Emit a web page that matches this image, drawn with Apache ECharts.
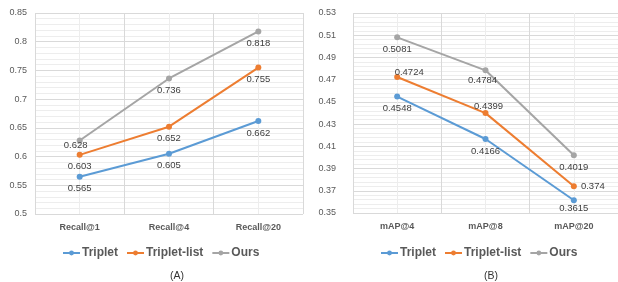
<!DOCTYPE html>
<html><head><meta charset="utf-8">
<script src="https://cdn.jsdelivr.net/npm/echarts@6/dist/echarts.min.js"></script>
<style>html,body{margin:0;padding:0;background:#fff}#c{width:618px;height:282px}</style>
</head><body><div id="c"></div>
<script>
const seriesNames = ['Triplet', 'Triplet-list', 'Ours'];
const catsA = ['Recall@1', 'Recall@4', 'Recall@20'];
const tripletA = [0.565, 0.605, 0.662];
const tripletListA = [0.603, 0.652, 0.755];
const oursA = [0.628, 0.736, 0.818];
const catsB = ['mAP@4', 'mAP@8', 'mAP@20'];
const tripletB = [0.4548, 0.4166, 0.3615];
const tripletListB = [0.4724, 0.4399, 0.374];
const oursB = [0.5081, 0.4784, 0.4019];
const panelTitles = ['(A)', '(B)'];

const colors = ['#5B9BD5', '#ED7D31', '#A5A5A5'];
const FONT = 'Liberation Sans';
const offs = {
  'A-2-0': [-4, -7],
  'B-1-0': [12, -17], 'B-1-1': [3, -19], 'B-1-2': [19, -12],
  'B-2-1': [-3, -2], 'B-0-2': [0, -4]
};
function mk(panel, si, vals, gi) {
  return {
    name: seriesNames[si], type: 'line', xAxisIndex: gi * 2, yAxisIndex: gi,
    symbol: 'circle', symbolSize: 6,
    lineStyle: {width: 2, color: colors[si]}, itemStyle: {color: colors[si]},
    data: vals.map((v, i) => {
      const o = offs[panel + '-' + si + '-' + i];
      return o ? {value: v, label: {offset: o}} : v;
    }),
    label: {show: true, position: 'bottom', distance: 4, color: '#404040',
      fontFamily: FONT, fontSize: 9.5, formatter: p => String(p.value)},
    z: 3 + si
  };
}
function yAx(gi, min, max, iv, margin) {
  return {type: 'value', gridIndex: gi, min: min, max: max, interval: iv,
    axisLine: {show: false}, axisTick: {show: false},
    axisLabel: {color: '#595959', fontFamily: FONT, fontSize: 9, margin: margin,
      formatter: v => String(parseFloat(v.toFixed(3)))},
    splitLine: {lineStyle: {color: '#D9D9D9', width: 1}},
    minorTick: {show: false, splitNumber: 5},
    minorSplitLine: {show: true, lineStyle: {color: '#EDEDED', width: 1}}};
}
function xCat(gi, cats) {
  return {type: 'category', gridIndex: gi, data: cats, boundaryGap: true,
    axisLine: {show: false}, axisTick: {show: false},
    axisLabel: {color: '#595959', fontFamily: FONT, fontSize: 9, fontWeight: 'bold', margin: 9},
    splitLine: {show: true, interval: 0, lineStyle: {color: '#D9D9D9', width: 1}}};
}
function xMinor(gi, n) {
  return {type: 'value', gridIndex: gi, min: 0, max: n, interval: 1, show: true,
    axisLine: {show: false}, axisTick: {show: false}, axisLabel: {show: false},
    splitLine: {show: false}, minorTick: {show: false, splitNumber: 2},
    minorSplitLine: {show: true, lineStyle: {color: '#EDEDED', width: 1}}};
}
const legendBase = {
  orient: 'horizontal', top: 242, itemWidth: 17, itemHeight: 6, itemGap: 8,
  textStyle: {color: '#595959', fontFamily: FONT, fontSize: 12, fontWeight: 'bold', padding: [0, 0, 0, -3]},
  data: seriesNames
};
const chart = echarts.init(document.getElementById('c'), null, {renderer: 'canvas'});
chart.setOption({
  animation: false,
  backgroundColor: '#fff',
  title: [
    {text: panelTitles[0], left: 172, top: 266, textAlign: 'center',
      textStyle: {fontFamily: FONT, fontSize: 10.5, fontWeight: 'normal', color: '#333'}},
    {text: panelTitles[1], left: 486, top: 266, textAlign: 'center',
      textStyle: {fontFamily: FONT, fontSize: 10.5, fontWeight: 'normal', color: '#333'}}
  ],
  legend: [
    Object.assign({}, legendBase, {left: 57}),
    Object.assign({}, legendBase, {left: 375})
  ],
  grid: [
    {left: 35, top: 13, width: 268, height: 201},
    {left: 353, top: 13, width: 268, height: 200}
  ],
  xAxis: [xCat(0, catsA), xMinor(0, 3), xCat(1, catsB), xMinor(1, 3)],
  yAxis: [yAx(0, 0.5, 0.85, 0.05, 8), yAx(1, 0.35, 0.53, 0.02, 17)],
  series: [
    mk('A', 0, tripletA, 0), mk('A', 1, tripletListA, 0), mk('A', 2, oursA, 0),
    mk('B', 0, tripletB, 1), mk('B', 1, tripletListB, 1), mk('B', 2, oursB, 1)
  ]
});
</script></body></html>
